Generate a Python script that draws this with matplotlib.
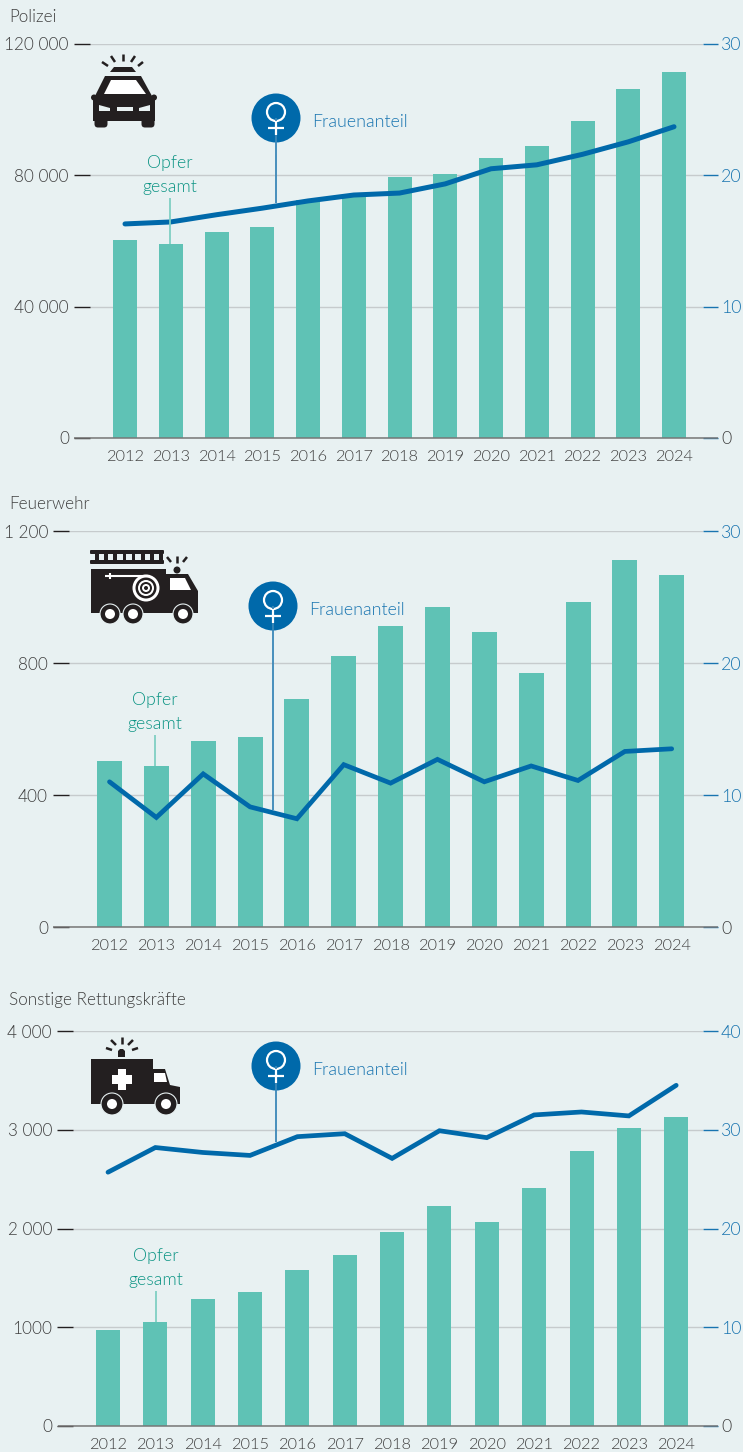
import matplotlib
matplotlib.use("Agg")
import matplotlib.pyplot as plt
from matplotlib.patches import Circle, Polygon, Rectangle, FancyBboxPatch

plt.rcParams['font.family'] = ['Lato', 'DejaVu Sans']
plt.rcParams['font.weight'] = 300

W, H = 743, 1452
BG = "#E8F1F2"
TEAL = "#5FC2B5"
TEAL_TXT = "#0C9484"
TEAL_STEM = "#7FCFC3"
BLUE = "#0069AA"
BLUE_TXT = "#1874B0"
GRID = "#C6CBCD"
TXT = "#404040"
BLACK = "#231F20"

years = list(range(2012, 2025))

police_total = [60300, 59100, 62700, 64300, 72500, 73700, 79500, 80400, 85300, 88900, 96500, 106300, 111500]
police_share = [16.3, 16.45, 17.0, 17.5, 18.05, 18.5, 18.65, 19.35, 20.5, 20.8, 21.6, 22.55, 23.7]
police_ticks = [0, 40000, 80000, 120000]
police_labels = ["0", "40 000", "80 000", "120 000"]

fire_total = [503, 488, 564, 576, 691, 821, 912, 970, 894, 770, 985, 1112, 1067]
fire_share = [11.0, 8.3, 11.6, 9.1, 8.2, 12.3, 10.9, 12.7, 11.0, 12.2, 11.1, 13.3, 13.5]
fire_ticks = [0, 400, 800, 1200]
fire_labels = ["0", "400", "800", "1 200"]

other_total = [972, 1053, 1286, 1357, 1580, 1732, 1965, 2228, 2066, 2410, 2785, 3018, 3129]
other_share = [25.7, 28.2, 27.7, 27.4, 29.3, 29.6, 27.1, 29.9, 29.2, 31.5, 31.8, 31.4, 34.5]
other_ticks = [0, 1000, 2000, 3000, 4000]
other_labels = ["0", "1000", "2 000", "3 000", "4 000"]

fig = plt.figure(figsize=(W / 100, H / 100), dpi=100, facecolor=BG)
px = 72 / 100


def panel(title, title_y, total, share, ticks, labels, ymax, share_ticks, left, top, bottom, first, step, bar_w, lw):
    ax = fig.add_axes([left / W, 1 - bottom / H, (703 - left) / W, (bottom - top) / H], facecolor="none")
    ax.set_xlim((left - first) / step, (703 - first) / step)
    ax.set_ylim(0, ymax)
    ax.bar(range(len(years)), total, width=bar_w / step, color=TEAL, zorder=2)
    for s in ax.spines.values():
        s.set_visible(False)
    ax.set_axisbelow(True)
    ax.yaxis.grid(True, color=GRID, lw=1.0)
    ax.set_xticks(range(len(years)), [str(y) for y in years], fontsize=11.8, color=TXT)
    ax.tick_params(axis="x", length=0, pad=8.6)
    ax.set_yticks(ticks, labels, fontsize=12.3, color=TXT)
    ax.tick_params(axis="y", length=16 * px, width=1.0, color=BLACK, pad=5 * px)

    ax2 = ax.twinx()
    ax2.set_ylim(0, share_ticks[-1])
    ax2.plot(range(len(years)), share, color=BLUE, lw=lw, solid_capstyle="round", solid_joinstyle="miter", zorder=4)
    for s in ax2.spines.values():
        s.set_visible(False)
    ax2.set_yticks(share_ticks, [str(t) for t in share_ticks], fontsize=12.8, color=BLUE_TXT)
    ax2.tick_params(axis="y", length=15 * px, width=1.0, color=BLUE_TXT, pad=3 * px)
    ax2.get_yticklabels()[0].set_color(TXT)

    fig.text(9 / W, 1 - title_y / H, title, fontsize=12.3, color=TXT, va="center", ha="left")


panel("Polizei", 17.5, police_total, police_share, police_ticks, police_labels, 120000, [0, 10, 20, 30],
      90, 44, 438, 125, 45.75, 24, 3.6)
panel("Feuerwehr", 504.5, fire_total, fire_share, fire_ticks, fire_labels, 1200, [0, 10, 20, 30],
      69, 531, 927, 109.5, 46.85, 25, 3.4)
panel("Sonstige Rettungskräfte", 999.5, other_total, other_share, other_ticks, other_labels, 4000, [0, 10, 20, 30, 40],
      73, 1031, 1426, 108, 47.35, 24, 3.4)

# overlay in pixel coordinates for the callouts and icons
ov = fig.add_axes([0, 0, 1, 1], facecolor="none")
ov.set_xlim(0, W)
ov.set_ylim(H, 0)
ov.axis("off")


def baseline(x, y):
    ov.plot([x, 718], [y, y], color="#777777", lw=1.1, solid_capstyle="butt")


def pin(x, y, stem_end, label_x):
    ov.plot([x, x], [y, stem_end], color="#3B87B8", lw=1.3, solid_capstyle="butt")
    ov.add_patch(Circle((x, y), 24.5, color=BLUE, lw=0))
    ov.add_patch(Circle((x, y - 6), 9, fc="none", ec="white", lw=1.6))
    ov.plot([x, x], [y + 3, y + 17], color="white", lw=1.6, solid_capstyle="butt")
    ov.plot([x - 8, x + 8], [y + 10, y + 10], color="white", lw=1.6, solid_capstyle="butt")
    ov.text(label_x, y + 4, "Frauenanteil", color=BLUE_TXT, fontsize=12.8, va="center", ha="left")


def victims(x, y, stem_end):
    ov.text(x, y + 1, "Opfer", color=TEAL_TXT, fontsize=12.8, va="center", ha="center")
    ov.text(x, y + 25, "gesamt", color=TEAL_TXT, fontsize=12.8, va="center", ha="center")
    ov.plot([x, x], [y + 36, stem_end], color=TEAL_STEM, lw=1.3, solid_capstyle="butt")


def rays(segments):
    for (x0, y0), (x1, y1) in segments:
        ov.plot([x0, x1], [y0, y1], color=BLACK, lw=1.8, solid_capstyle="butt")


def poly(points, color=BLACK):
    ov.add_patch(Polygon(points, closed=True, fc=color, ec="none"))


def wheel(x, y, r, hub):
    ov.add_patch(Circle((x, y), r, fc=BLACK, ec=BG, lw=0.8))
    ov.add_patch(Circle((x, y), hub, fc="white", ec="none"))


def police_car():
    rays([((102, 62), (108, 66)), ((111, 56), (115, 62)), ((122.5, 54), (122.5, 61)),
          ((135, 56), (131, 62)), ((143, 62), (138, 66))])
    poly([(110, 72), (114, 67), (132, 67), (136, 72)])
    poly([(105, 76), (141, 76), (152, 96), (155, 98), (155, 121), (93, 121), (93, 98), (95, 96)])
    ov.add_patch(Circle((94, 97.5), 3, fc=BLACK, ec="none"))
    ov.add_patch(Circle((154, 97.5), 3, fc=BLACK, ec="none"))
    ov.add_patch(FancyBboxPatch((98, 117), 6, 7, boxstyle="round,pad=3.5", fc=BLACK, ec="none"))
    ov.add_patch(FancyBboxPatch((145, 117), 6, 7, boxstyle="round,pad=3.5", fc=BLACK, ec="none"))
    poly([(111, 80), (136, 80), (146, 94), (104, 94)], "white")
    poly([(99, 105), (110, 108), (110, 111), (99, 111)], BG)
    ov.add_patch(Rectangle((117, 107), 16, 4, fc=BG, ec="none"))
    poly([(139, 108), (150, 105), (150, 111), (139, 111)], BG)


def fire_truck():
    ov.add_patch(FancyBboxPatch((91, 551), 72, 2, boxstyle="round,pad=1", fc=BLACK, ec="none"))
    ov.add_patch(FancyBboxPatch((91, 561), 72, 2, boxstyle="round,pad=1", fc=BLACK, ec="none"))
    for i in range(8):
        ov.add_patch(Rectangle((95 + i * 9.2, 552), 3.6, 10, fc=BLACK, ec="none"))
    rays([((167, 557), (171, 562)), ((177, 556), (177, 563)), ((187, 557), (183, 562))])
    ov.add_patch(Circle((177, 570), 3.5, fc=BLACK, ec="none"))
    ov.add_patch(Rectangle((91, 569), 75, 44, fc=BLACK, ec="none"))
    poly([(166, 574), (188, 574), (198, 591), (198, 613), (166, 613)])
    poly([(170, 578), (185, 578), (191, 590), (170, 590)], "white")
    for r, c in [(13.5, "white"), (10.5, BLACK), (8, "white"), (6, BLACK), (4, "white"), (2, BLACK)]:
        ov.add_patch(Circle((146, 588), r, fc=c, ec="none"))
    ov.plot([105, 150], [576, 576], color="white", lw=1.5, solid_capstyle="butt")
    ov.plot([110, 110], [573, 579], color="white", lw=1.5, solid_capstyle="butt")
    wheel(110, 614, 10, 5)
    wheel(133, 614, 10, 5)
    wheel(183, 614, 10, 5)


def ambulance():
    rays([((106, 1048), (112, 1050)), ((111, 1040), (116, 1045)), ((122, 1037), (122, 1044)),
          ((133, 1040), (128, 1045)), ((138, 1048), (132, 1050))])
    poly([(118, 1057), (118, 1051), (120, 1049), (123, 1049), (125, 1051), (125, 1057)])
    ov.add_patch(Rectangle((91, 1059), 62, 45, fc=BLACK, ec="none"))
    poly([(153, 1069), (165, 1069), (170, 1085), (180, 1087), (180, 1104), (153, 1104)])
    poly([(154, 1073), (165, 1073), (167, 1082), (154, 1082)], "white")
    ov.add_patch(Rectangle((112, 1075), 20, 9, fc="white", ec="none"))
    ov.add_patch(Rectangle((118, 1069), 8, 21, fc="white", ec="none"))
    wheel(112, 1104, 11, 5)
    wheel(166, 1104, 11, 5)


baseline(74, 438)
baseline(53, 927)
baseline(58, 1426)
pin(276, 118, 203, 312)
pin(273, 606, 810, 309)
pin(276, 1066, 1142, 312)
victims(170, 162, 244)
victims(155, 699, 766)
victims(156, 1255, 1322)
police_car()
fire_truck()
ambulance()

fig.savefig("out.png", dpi=100, facecolor=BG)
